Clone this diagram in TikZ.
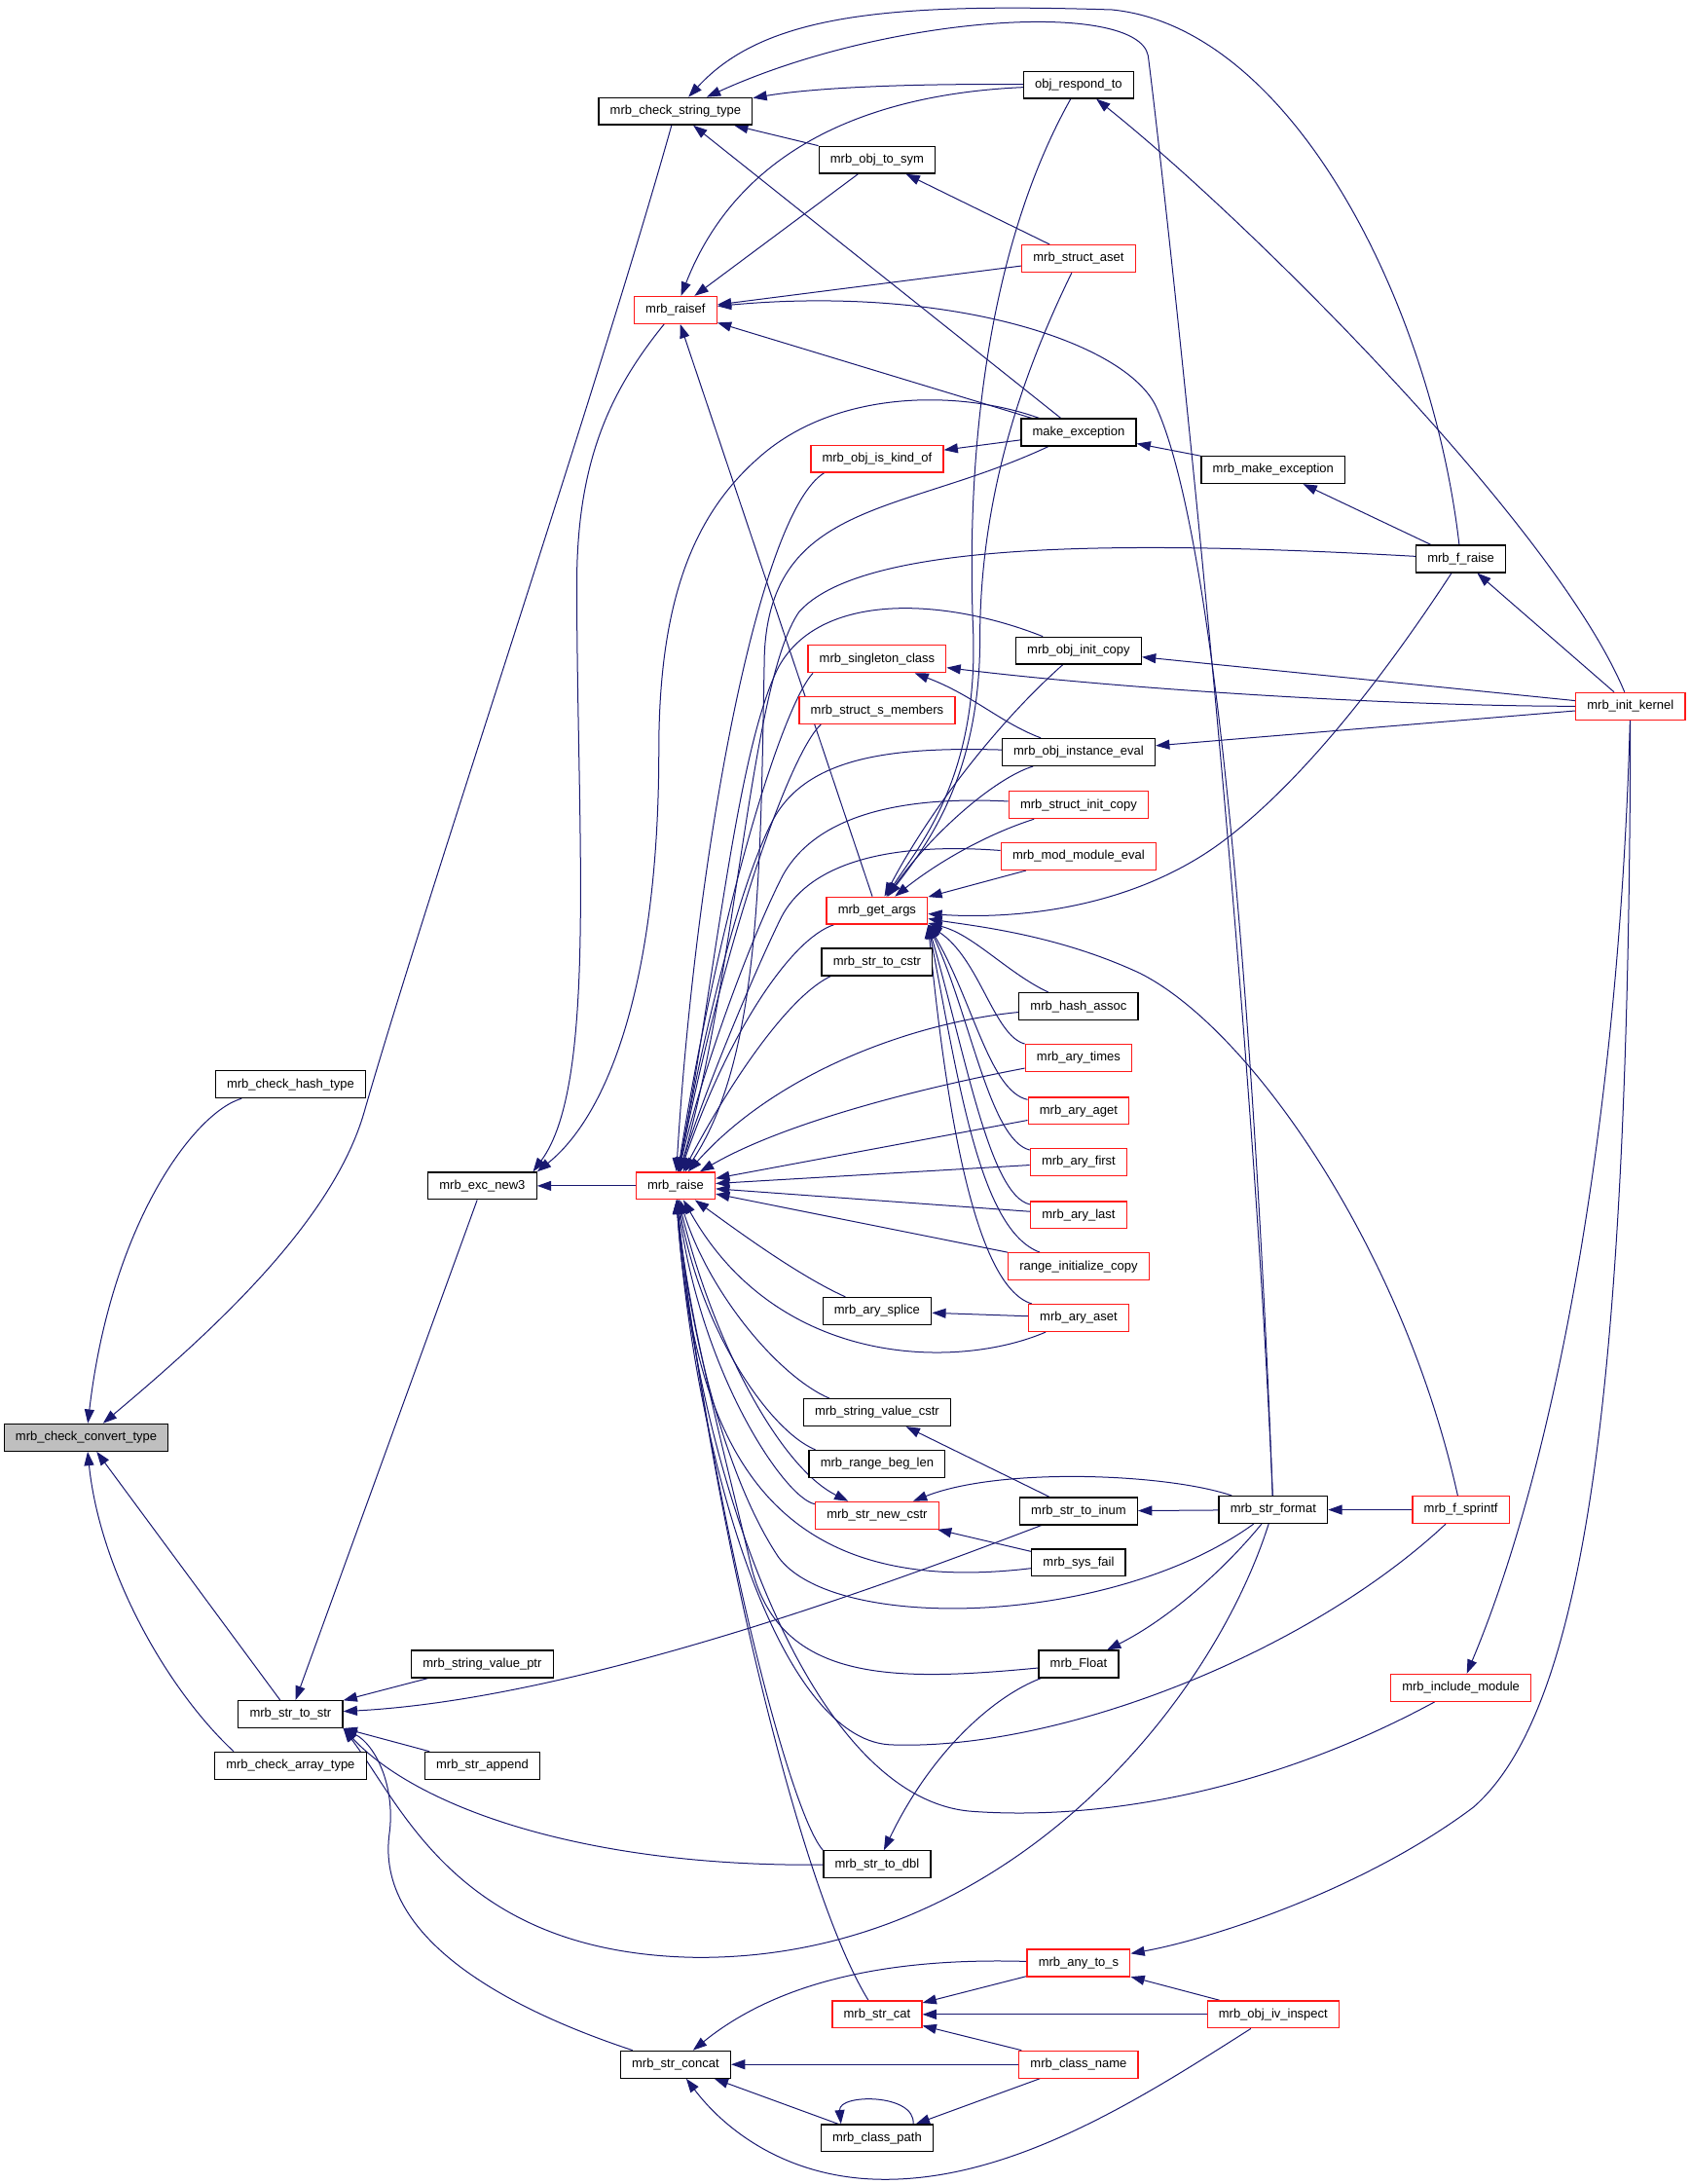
\documentclass[tikz,border=0pt]{standalone}
\usepackage{fontspec}
\setmainfont{Liberation Sans}
\usepackage{tikz}
\usetikzlibrary{arrows.meta, backgrounds}
\definecolor{func-red}{rgb}{1, 0.1, 0.1}
\definecolor{func-gray}{rgb}{0.75, 0.75, 0.75}
\definecolor{edge-blue}{rgb}{0.1, 0.1, 0.44}

\begin{document}
\begin{tikzpicture}[x=1pt, y=1pt]
	\tikzset{func/.style={rectangle, draw, fill=white, line width=0.9pt, inner xsep=8.2pt, inner ysep=0pt, minimum height=19.5pt, font=\fontsize{9.1}{11}\selectfont}}
	\tikzset{func red/.style={func, draw=func-red}}
	\tikzset{arr/.style={-{Triangle[length=10pt, width=7pt]}, edge-blue, line width=0.7pt}}
	\useasboundingbox (0,0) rectangle (1216,-1571);
	\node[func, fill=func-gray] at (62,-1034) (convert) {mrb\_check\_convert\_type};
	\node[func] at (209,-780) (hash) {mrb\_check\_hash\_type};
	\node[func] at (209,-1233) (strtostr) {mrb\_str\_to\_str};
	\node[func] at (209,-1270) (arraytype) {mrb\_check\_array\_type};
	\node[func] at (347,-853) (excnew3) {mrb\_exc\_new3};
	\node[func] at (347,-1197) (valueptr) {mrb\_string\_value\_ptr};
	\node[func] at (347,-1270) (strappend) {mrb\_str\_append};
	\node[func] at (486,-80) (checkstring) {mrb\_check\_string\_type};
	\node[func red] at (486,-223) (raisef) {mrb\_raisef};
	\node[func red] at (486,-853) (raise) {mrb\_raise};
	\node[func] at (486,-1485) (concat) {mrb\_str\_concat};
	\node[func] at (631,-115) (objtosym) {mrb\_obj\_to\_sym};
	\node[func red] at (631,-330) (kindof) {mrb\_obj\_is\_kind\_of};
	\node[func red] at (631,-474) (singleton) {mrb\_singleton\_class};
	\node[func red] at (631,-511) (smembers) {mrb\_struct\_s\_members};
	\node[func red] at (631,-655) (getargs) {mrb\_get\_args};
	\node[func] at (631,-692) (tocstr) {mrb\_str\_to\_cstr};
	\node[func] at (631,-943) (splice) {mrb\_ary\_splice};
	\node[func] at (631,-1016) (valuecstr) {mrb\_string\_value\_cstr};
	\node[func] at (631,-1053) (beglen) {mrb\_range\_beg\_len};
	\node[func red] at (631,-1090) (newcstr) {mrb\_str\_new\_cstr};
	\node[func] at (631,-1341) (todbl) {mrb\_str\_to\_dbl};
	\node[func red] at (631,-1449) (strcat) {mrb\_str\_cat};
	\node[func] at (631,-1538) (classpath) {mrb\_class\_path};
	\node[func] at (776,-61) (respond) {obj\_respond\_to};
	\node[func red] at (776,-186) (structaset) {mrb\_struct\_aset};
	\node[func] at (776,-311) (makeexc) {make\_exception};
	\node[func] at (776,-468) (initcopy) {mrb\_obj\_init\_copy};
	\node[func] at (776,-541) (instanceeval) {mrb\_obj\_instance\_eval};
	\node[func red] at (776,-579) (structinitcopy) {mrb\_struct\_init\_copy};
	\node[func red] at (776,-616) (modeval) {mrb\_mod\_module\_eval};
	\node[func] at (776,-724) (hashassoc) {mrb\_hash\_assoc};
	\node[func red] at (776,-761) (arytimes) {mrb\_ary\_times};
	\node[func red] at (776,-799) (aryaget) {mrb\_ary\_aget};
	\node[func red] at (776,-836) (aryfirst) {mrb\_ary\_first};
	\node[func red] at (776,-874) (arylast) {mrb\_ary\_last};
	\node[func red] at (776,-911) (rangecopy) {range\_initialize\_copy};
	\node[func red] at (776,-948) (aryaset) {mrb\_ary\_aset};
	\node[func] at (776,-1087) (toinum) {mrb\_str\_to\_inum};
	\node[func] at (776,-1124) (sysfail) {mrb\_sys\_fail};
	\node[func] at (776,-1197) (mrbfloat) {mrb\_Float};
	\node[func red] at (776,-1412) (anytos) {mrb\_any\_to\_s};
	\node[func red] at (776,-1485) (classname) {mrb\_class\_name};
	\node[func] at (916,-338) (makeexception) {mrb\_make\_exception};
	\node[func] at (916,-1086) (strformat) {mrb\_str\_format};
	\node[func red] at (916,-1449) (ivinspect) {mrb\_obj\_iv\_inspect};
	\node[func] at (1051,-402) (fraise) {mrb\_f\_raise};
	\node[func red] at (1051,-1086) (fsprintf) {mrb\_f\_sprintf};
	\node[func red] at (1051,-1214) (includemod) {mrb\_include\_module};
	\node[func red] at (1173,-508) (initkernel) {mrb\_init\_kernel};
	\begin{scope}[on background layer]
		\draw[arr] (hash) .. controls (140,-800) and (80,-880) .. (convert);
		\draw[arr] (checkstring) .. controls (430,-280) and (305,-650) .. (262,-800) .. controls (239,-880) and (150,-960) .. (convert);
		\draw[arr] (strtostr) -- (convert);
		\draw[arr] ([xshift=14pt]arraytype.north west) .. controls (120,-1215) and (72,-1130) .. (convert);
		\draw[arr] (respond) .. controls (640,-60) and (580,-64) .. (checkstring);
		\draw[arr] (objtosym.north west) -- (checkstring);
		\draw[arr] (makeexc) -- (checkstring);
		\draw[arr] (fraise) .. controls (1030,-220) and (930,-20) .. (800,-7) .. controls (640,-2) and (550,-10) .. (checkstring);
		\draw[arr] (strformat) .. controls (900,-700) and (840,-150) .. (826,-40) .. controls (818,0) and (640,-10) .. (checkstring);
		\draw[arr] (respond) .. controls (620,-68) and (530,-110) .. (raisef);
		\draw[arr] (objtosym) -- (raisef);
		\draw[arr] (structaset) -- (raisef);
		\draw[arr] (strformat) .. controls (905,-800) and (880,-400) .. (832,-293) .. controls (810,-245) and (680,-205) .. (raisef);
		\draw[arr] (makeexc) -- (raisef);
		\draw[arr] (getargs) -- (raisef);
		\draw[arr] (structaset) -- (objtosym);
		\draw[arr] (raisef) .. controls (440,-280) and (415,-330) .. (415,-420) .. controls (415,-600) and (430,-780) .. ([xshift=-3pt]excnew3.north east);
		\draw[arr] (makeexc) .. controls (690,-280) and (600,-280) .. (545,-330) .. controls (500,-370) and (474,-430) .. (474,-540) .. controls (474,-700) and (440,-800) .. (excnew3.north east);
		\draw[arr] (raise) -- (excnew3);
		\draw[arr] (excnew3) -- (strtostr);
		\draw[arr] (valueptr) -- (strtostr);
		\draw[arr] (toinum) .. controls (650,-1135) and (420,-1222) .. (strtostr);
		\draw[arr] (strappend) -- (strtostr);
		\draw[arr] (todbl) .. controls (420,-1343) and (300,-1300) .. (strtostr.south east);
		\draw[arr] (strformat) .. controls (870,-1230) and (720,-1410) .. (500,-1408) .. controls (330,-1405) and (290,-1300) .. (strtostr.south east);
		\draw[arr] (concat) .. controls (380,-1450) and (270,-1400) .. (280,-1320) .. controls (285,-1285) and (270,-1255) .. (strtostr.south east);
		\draw[arr] (makeexc) -- (kindof);
		\draw[arr] (makeexception) -- (makeexc);
		\draw[arr] (fraise) -- (makeexception);
		\draw[arr] (initkernel) -- (fraise);
		\draw[arr] (initkernel) .. controls (1120,-380) and (900,-160) .. (respond);
		\draw[arr] (initkernel) -- (initcopy);
		\draw[arr] (initkernel) .. controls (1000,-508) and (800,-495) .. (singleton);
		\draw[arr] (initkernel) -- (instanceeval);
		\draw[arr] (initkernel) .. controls (1165,-800) and (1120,-1050) .. (includemod);
		\draw[arr] (initkernel) .. controls (1172,-1000) and (1140,-1230) .. (1060,-1300) .. controls (980,-1360) and (870,-1395) .. (anytos);
		\draw[arr] (instanceeval) .. controls (720,-520) and (700,-500) .. (singleton);
		\draw[arr] (respond) .. controls (712,-175) and (695,-320) .. (700,-450) .. controls (705,-560) and (660,-610) .. (getargs);
		\draw[arr] (structaset) .. controls (740,-260) and (705,-350) .. (705,-460) .. controls (705,-560) and (665,-610) .. (getargs);
		\draw[arr] (initcopy) .. controls (712,-525) and (665,-590) .. (getargs);
		\draw[arr] (instanceeval) .. controls (715,-560) and (670,-600) .. (getargs);
		\draw[arr] (structinitcopy) .. controls (710,-600) and (675,-620) .. (getargs);
		\draw[arr] (modeval) -- (getargs);
		\draw[arr] (fraise) .. controls (1000,-480) and (940,-560) .. (880,-605) .. controls (820,-650) and (740,-662) .. (getargs);
		\draw[arr] (fsprintf) .. controls (1010,-900) and (900,-740) .. (820,-700) .. controls (760,-672) and (700,-666) .. (getargs);
		\draw[arr] (hashassoc) .. controls (725,-700) and (700,-672) .. (getargs);
		\draw[arr] (arytimes) .. controls (715,-745) and (705,-690) .. (getargs.south east);
		\draw[arr] (aryaget) .. controls (712,-785) and (700,-720) .. (getargs.south east);
		\draw[arr] (aryfirst) .. controls (712,-820) and (698,-730) .. (getargs.south east);
		\draw[arr] (arylast) .. controls (712,-860) and (695,-760) .. (getargs.south east);
		\draw[arr] (rangecopy) .. controls (705,-885) and (690,-780) .. (getargs.south east);
		\draw[arr] (aryaset) .. controls (700,-925) and (680,-790) .. (getargs.south east);
		\draw[arr] (aryaset) -- (splice);
		\draw[arr] (toinum) -- (valuecstr);
		\draw[arr] (strformat) .. controls (840,-1060) and (720,-1055) .. (newcstr);
		\draw[arr] (sysfail) -- (newcstr);
		\draw[arr] (strformat) -- (toinum);
		\draw[arr] (fsprintf) -- (strformat);
		\draw[arr] (strformat) .. controls (880,-1130) and (840,-1165) .. (mrbfloat);
		\draw[arr] (mrbfloat) .. controls (715,-1220) and (670,-1260) .. (todbl);
		\draw[arr] (anytos) -- (strcat);
		\draw[arr] (ivinspect) -- (strcat);
		\draw[arr] (classname) -- (strcat);
		\draw[arr] (ivinspect) -- (anytos);
		\draw[arr] (anytos) .. controls (640,-1408) and (560,-1425) .. (concat);
		\draw[arr] (classname) -- (concat);
		\draw[arr] (classpath) -- (concat);
		\draw[arr] (ivinspect) .. controls (820,-1510) and (720,-1575) .. (620,-1567) .. controls (560,-1562) and (520,-1530) .. (concat);
		\draw[arr] (classname) -- (classpath);
		\draw[arr] ([xshift=26pt]classpath.north) .. controls +(2,22) and +(-2,22) .. ([xshift=-26pt]classpath.north);
		\draw[arr] ([xshift=10pt]kindof.south west) .. controls (545,-370) and (500,-620) .. (raise);
		\draw[arr] (makeexc) .. controls (650,-370) and (555,-360) .. (550,-470) .. controls (547,-620) and (548,-760) .. (raise);
		\draw[arr] (fraise) .. controls (800,-388) and (620,-390) .. (575,-440) .. controls (540,-490) and (530,-700) .. (raise);
		\draw[arr] (initcopy) .. controls (680,-430) and (590,-425) .. (560,-480) .. controls (530,-540) and (515,-700) .. (raise);
		\draw[arr] ([xshift=4pt]singleton.south west) .. controls (565,-505) and (520,-640) .. (raise);
		\draw[arr] ([xshift=16pt]smembers.south west) .. controls (570,-540) and (525,-660) .. (raise);
		\draw[arr] (instanceeval) .. controls (640,-537) and (580,-545) .. (556,-590) .. controls (530,-640) and (505,-750) .. (raise);
		\draw[arr] (structinitcopy) .. controls (640,-572) and (585,-590) .. (563,-630) .. controls (540,-675) and (505,-770) .. (raise);
		\draw[arr] (modeval) .. controls (630,-605) and (580,-625) .. (562,-660) .. controls (540,-705) and (505,-790) .. (raise);
		\draw[arr] (getargs) .. controls (570,-675) and (525,-740) .. (raise);
		\draw[arr] ([xshift=7pt]tocstr.south west) .. controls (570,-715) and (530,-770) .. (raise);
		\draw[arr] (hashassoc) .. controls (660,-735) and (560,-770) .. (raise);
		\draw[arr] (arytimes) .. controls (650,-785) and (560,-810) .. (raise);
		\draw[arr] (aryaget) -- (raise);
		\draw[arr] (aryfirst) -- (raise);
		\draw[arr] (arylast) -- (raise);
		\draw[arr] (rangecopy) -- (raise);
		\draw[arr] (splice) .. controls (575,-918) and (530,-885) .. (raise);
		\draw[arr] (aryaset) .. controls (690,-985) and (560,-985) .. (raise);
		\draw[arr] ([xshift=19pt]valuecstr.north west) .. controls (560,-990) and (510,-930) .. (raise);
		\draw[arr] ([xshift=5pt]beglen.north west) .. controls (555,-1030) and (505,-960) .. (raise);
		\draw[arr] (newcstr) .. controls (565,-1078) and (505,-990) .. (raise);
		\draw[arr] (raise) .. controls (510,-960) and (560,-1055) .. (newcstr);
		\draw[arr] (sysfail) .. controls (560,-1150) and (500,-1050) .. (raise);
		\draw[arr] (strformat) .. controls (800,-1170) and (600,-1175) .. (560,-1120) .. controls (520,-1060) and (495,-950) .. (raise);
		\draw[arr] (mrbfloat) .. controls (640,-1210) and (560,-1210) .. (540,-1125) .. controls (525,-1060) and (495,-950) .. (raise);
		\draw[arr] (fsprintf) .. controls (940,-1190) and (760,-1260) .. (640,-1255) .. controls (560,-1250) and (500,-1050) .. (raise);
		\draw[arr] (includemod) .. controls (920,-1285) and (800,-1310) .. (700,-1303) .. controls (580,-1295) and (500,-1050) .. (raise);
		\draw[arr] (todbl.north west) .. controls (565,-1300) and (505,-1050) .. (raise);
		\draw[arr] (strcat) .. controls (570,-1350) and (505,-1050) .. (raise);
	\end{scope}
\end{tikzpicture}
\end{document}
